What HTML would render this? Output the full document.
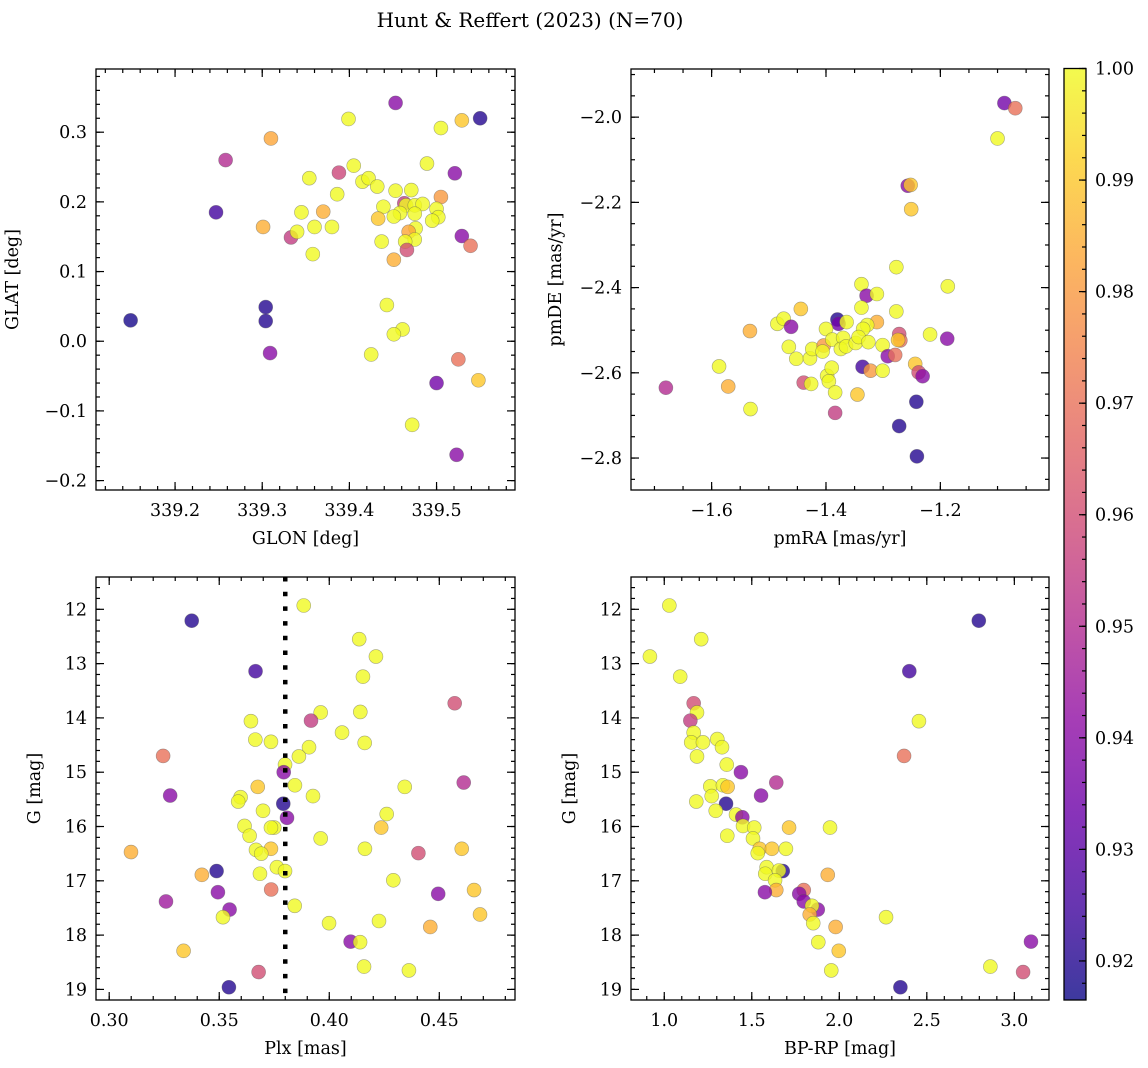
<!DOCTYPE html>
<html><head><meta charset="utf-8">
<style>
html,body{margin:0;padding:0;background:#fff;}
svg{display:block;font-family:"DejaVu Serif","Liberation Serif",serif;}
</style></head>
<body>
<svg id="fig" width="1148" height="1068" xmlns="http://www.w3.org/2000/svg">
<text x="530" y="27" font-size="20" text-anchor="middle">Hunt &amp; Reffert (2023) (N=70)</text>
</svg>
<script>
// ---- Panel 1: GLON vs GLAT ----
const glon = [339.453,339.399,339.505,339.529,339.550,339.310,339.258,339.405,339.489,339.521,339.354,339.388,339.415,339.422,339.432,339.453,339.471,339.505,339.386,339.439,339.463,339.465,339.475,339.484,339.500,339.502,339.495,339.458,339.475,339.451,339.433,339.476,339.468,339.475,339.464,339.466,339.437,339.451,339.529,339.539,339.247,339.301,339.345,339.370,339.360,339.380,339.333,339.340,339.358,339.149,339.304,339.304,339.309,339.443,339.461,339.451,339.425,339.525,339.548,339.500,339.472,339.523];
const glat = [0.342,0.319,0.306,0.317,0.320,0.291,0.260,0.252,0.255,0.241,0.234,0.242,0.229,0.234,0.222,0.216,0.217,0.207,0.211,0.193,0.198,0.195,0.195,0.197,0.190,0.178,0.173,0.184,0.183,0.179,0.176,0.162,0.157,0.146,0.143,0.131,0.143,0.117,0.151,0.137,0.185,0.164,0.185,0.186,0.164,0.164,0.149,0.157,0.125,0.030,0.049,0.029,-0.017,0.052,0.017,0.010,-0.019,-0.026,-0.056,-0.060,-0.120,-0.163];
const probA = [0.94,1,1,0.99,0.92,0.983,0.95,1,1,0.94,1,0.958,1,1,1,1,1,0.98,1,1,0.955,1,1,1,1,1,1,1,1,1,0.99,1,0.983,1,1,0.96,1,0.985,0.94,0.97,0.925,0.985,1,0.985,1,1,0.955,1,1,0.918,0.92,0.92,0.94,1,1,1,1,0.97,0.99,0.935,1,0.94];
// ---- Panel 2: pmRA vs pmDE ----
const pmra = [-1.088,-1.069,-1.100,-1.257,-1.252,-1.251,-1.277,-1.187,-1.338,-1.329,-1.311,-1.338,-1.277,-1.444,-1.485,-1.474,-1.461,-1.380,-1.378,-1.364,-1.311,-1.328,-1.335,-1.400,-1.533,-1.465,-1.452,-1.428,-1.424,-1.404,-1.406,-1.389,-1.370,-1.374,-1.365,-1.348,-1.343,-1.326,-1.301,-1.272,-1.270,-1.274,-1.218,-1.188,-1.292,-1.279,-1.244,-1.238,-1.231,-1.587,-1.571,-1.680,-1.532,-1.439,-1.426,-1.398,-1.390,-1.395,-1.384,-1.345,-1.336,-1.322,-1.301,-1.384,-1.242,-1.272,-1.241];
const pmde = [-1.967,-1.979,-2.050,-2.161,-2.159,-2.216,-2.352,-2.397,-2.392,-2.419,-2.415,-2.447,-2.456,-2.450,-2.485,-2.473,-2.492,-2.475,-2.485,-2.481,-2.481,-2.488,-2.497,-2.497,-2.502,-2.539,-2.567,-2.566,-2.544,-2.536,-2.550,-2.522,-2.518,-2.544,-2.538,-2.530,-2.516,-2.528,-2.535,-2.509,-2.524,-2.523,-2.510,-2.520,-2.561,-2.558,-2.579,-2.599,-2.608,-2.585,-2.632,-2.635,-2.685,-2.623,-2.626,-2.607,-2.588,-2.620,-2.646,-2.651,-2.586,-2.595,-2.595,-2.694,-2.668,-2.725,-2.796];
const probB = [0.935,0.97,1,0.94,0.99,0.99,1,1,1,0.94,1,1,1,0.99,1,1,0.94,0.92,0.935,1,0.985,1,1,1,0.985,1,1,1,1,0.98,1,1,1,1,1,1,1,1,1,0.96,0.97,0.99,1,0.94,0.94,0.97,0.99,0.96,0.94,1,0.985,0.95,1,0.96,1,1,1,1,1,0.99,0.925,0.98,1,0.955,0.92,0.92,0.92];
// ---- Panel 3: Plx vs G ----
const plx = [0.3884,0.3375,0.4136,0.4212,0.3665,0.4153,0.4570,0.4141,0.3961,0.3917,0.3644,0.4058,0.3664,0.3735,0.4161,0.3908,0.3862,0.3245,0.3799,0.3793,0.4611,0.4343,0.3675,0.3844,0.3277,0.3926,0.3597,0.3586,0.3791,0.3699,0.4261,0.3808,0.3615,0.3750,0.3735,0.4236,0.3638,0.3961,0.4162,0.4602,0.3667,0.3735,0.3691,0.3099,0.4405,0.3762,0.3799,0.3488,0.3421,0.3685,0.4291,0.3736,0.4658,0.3494,0.4495,0.3258,0.3843,0.3547,0.4685,0.3517,0.3999,0.4226,0.4459,0.4097,0.4140,0.3338,0.4158,0.4362,0.3679,0.3544];
const gmagC = [11.93,12.21,12.55,12.87,13.14,13.24,13.73,13.89,13.90,14.05,14.06,14.27,14.40,14.44,14.46,14.54,14.71,14.70,14.86,15.00,15.19,15.27,15.27,15.24,15.43,15.44,15.46,15.54,15.58,15.71,15.77,15.84,15.99,16.02,16.02,16.02,16.17,16.22,16.41,16.41,16.43,16.41,16.50,16.47,16.49,16.75,16.82,16.82,16.89,16.87,16.99,17.16,17.17,17.21,17.24,17.38,17.46,17.53,17.62,17.67,17.78,17.74,17.85,18.12,18.13,18.29,18.58,18.65,18.68,18.96];
const probC = [1,0.92,1,1,0.925,1,0.96,1,1,0.955,1,1,1,1,1,1,1,0.97,1,0.94,0.95,1,0.99,1,0.94,1,1,1,0.92,1,1,0.94,1,1,1,0.99,1,1,1,0.99,1,0.99,1,0.985,0.96,1,1,0.92,0.985,1,1,0.97,0.99,0.94,0.94,0.945,1,0.94,0.99,1,1,1,0.985,0.94,1,0.99,1,1,0.96,0.92];
const plxCut = 0.38;
// ---- Panel 4: BP-RP vs G ----
const bprp = [1.029,1.211,0.918,2.797,2.400,1.091,1.168,1.187,1.149,2.455,1.168,1.154,1.221,1.303,1.330,1.187,2.370,1.357,1.438,1.640,1.263,1.335,1.362,1.553,1.271,1.183,1.353,1.294,1.410,1.446,1.450,1.514,1.713,1.947,1.360,1.507,1.545,1.615,1.695,1.534,1.585,1.677,1.655,1.577,1.934,1.633,1.640,1.575,1.797,1.771,1.797,1.877,1.844,1.831,2.267,1.851,1.979,3.095,1.880,1.997,2.863,1.954,3.050,2.349];
const gmagD = [11.93,12.55,12.87,12.21,13.14,13.24,13.73,13.90,14.05,14.06,14.27,14.45,14.45,14.39,14.54,14.71,14.70,14.86,15.00,15.19,15.26,15.24,15.27,15.43,15.44,15.54,15.58,15.71,15.78,15.83,15.99,16.02,16.02,16.02,16.17,16.22,16.41,16.41,16.41,16.49,16.75,16.82,16.81,16.87,16.89,16.99,17.17,17.21,17.17,17.24,17.38,17.53,17.46,17.62,17.67,17.78,17.85,18.12,18.13,18.29,18.58,18.65,18.68,18.96];
const probD = [1,1,1,0.92,0.925,1,0.96,1,0.955,1,1,1,1,1,1,1,0.97,1,0.94,0.95,1,1,0.99,0.94,1,1,0.92,1,1,0.94,1,1,0.99,1,1,1,0.99,0.99,1,1,1,0.92,1,1,0.985,1,0.985,0.94,0.97,0.94,0.94,0.94,1,0.985,1,1,0.985,0.94,1,0.99,1,1,0.96,0.92];
// colorbar ticks
const cbTicks = [0.92,0.93,0.94,0.95,0.96,0.97,0.98,0.99,1.00];
const cbMin = 0.9165, cbMax = 1.0;

const NS = "http://www.w3.org/2000/svg";
const svg = document.getElementById('fig');
function mk(tag, attrs, parent){ const e=document.createElementNS(NS,tag); for(const k in attrs) e.setAttribute(k,attrs[k]); (parent||svg).appendChild(e); return e; }

const plasma = [[13,8,135],[65,4,157],[106,0,168],[143,13,164],[177,42,144],[204,71,120],[225,100,98],[242,132,75],[252,166,54],[252,206,37],[240,249,33]];
function cmap(t){ t=Math.max(0,Math.min(1,t)); const f=t*10; const i=Math.min(9,Math.floor(f)); const u=f-i; const a=plasma[i], b=plasma[i+1]; return 'rgb('+a.map((v,k)=>Math.round(v+(b[k]-v)*u)).join(',')+')'; }
function pcol(p){ return cmap((p-cbMin)/(cbMax-cbMin)); }

const FS = 17.5;
function panel(o){
  const g = mk('g',{});
  
  
  const sx = v => o.x0 + (v - o.xmin)/(o.xmax-o.xmin)*(o.x1-o.x0);
  const sy = o.yrev ? (v => o.y0 + (v - o.ymin)/(o.ymax-o.ymin)*(o.y1-o.y0))
                    : (v => o.y1 - (v - o.ymin)/(o.ymax-o.ymin)*(o.y1-o.y0));
  const tg = mk('g',{stroke:'#000','stroke-width':1.2},g);
  const eps=1e-9;
  function ticksX(step, len){ const s=Math.ceil(o.xmin/step-eps); for(let k=s; k*step<=o.xmax+eps; k++){ const X=sx(k*step); mk('line',{x1:X,x2:X,y1:o.y1,y2:o.y1-len},tg); mk('line',{x1:X,x2:X,y1:o.y0,y2:o.y0+len},tg);} }
  function ticksY(step, len){ const s=Math.ceil(o.ymin/step-eps); for(let k=s; k*step<=o.ymax+eps; k++){ const Y=sy(k*step); mk('line',{x1:o.x0,x2:o.x0+len,y1:Y,y2:Y},tg); mk('line',{x1:o.x1,x2:o.x1-len,y1:Y,y2:Y},tg);} }
  ticksX(o.xminor,4); ticksX(o.xmajor,8); ticksY(o.yminor,4); ticksY(o.ymajor,8);
  const xl = mk('g',{'font-size':FS,'text-anchor':'middle'},g);
  
  
  o.xlabels.forEach(v=>{ const t=mk('text',{x:sx(v),y:o.y1+26},xl); t.textContent=v.toFixed(o.xdec).replace('-','\u2212'); });
  const yl = mk('g',{'font-size':FS,'text-anchor':'end'},g);
  
  
  o.ylabels.forEach(v=>{ const t=mk('text',{x:o.x0-9,y:sy(v)+6},yl); t.textContent=v.toFixed(o.ydec).replace('-','\u2212'); });
  const xt = mk('text',{x:(o.x0+o.x1)/2,y:o.y1+54,'font-size':FS,'text-anchor':'middle'},g);
  
  
  xt.textContent=o.xtitle;
  const ytx=o.x0-o.ytoff, yty=(o.y0+o.y1)/2;
  const yt = mk('text',{x:ytx,y:yty,'font-size':FS,'text-anchor':'middle',transform:'rotate(-90 '+ytx+' '+yty+')'},g);
  
  
  yt.textContent=o.ytitle;
  const pg = mk('g',{},g);
  
  
  o.xs.forEach((v,i)=>{
    const c = mk('circle',{cx:sx(v),cy:sy(o.ys[i]),r:7,fill:pcol(o.ps[i]),'fill-opacity':0.8,stroke:'#555','stroke-opacity':0.5,'stroke-width':0.6},pg);
    
    
  });
  if(o.extra) o.extra(g,sx,sy);
  mk('rect',{x:o.x0,y:o.y0,width:o.x1-o.x0,height:o.y1-o.y0,fill:'none',stroke:'#000','stroke-width':1.3},g);
}

panel({name:'glon-glat-panel',x0:96,x1:515,y0:69,y1:490,xmin:339.1093,xmax:339.590,ymin:-0.2135,ymax:0.3907,
  xmajor:0.1,xminor:0.02,ymajor:0.1,yminor:0.02,xlabels:[339.2,339.3,339.4,339.5],xdec:1,ylabels:[-0.2,-0.1,0,0.1,0.2,0.3],ydec:1,
  xtitle:'GLON [deg]',ytitle:'GLAT [deg]',ytoff:78,xs:glon,ys:glat,ps:probA});
panel({name:'pm-panel',x0:631,x1:1049,y0:69,y1:490,xmin:-1.741,xmax:-1.010,ymin:-2.875,ymax:-1.887,
  xmajor:0.2,xminor:0.05,ymajor:0.2,yminor:0.05,xlabels:[-1.6,-1.4,-1.2],xdec:1,ylabels:[-2.8,-2.6,-2.4,-2.2,-2.0],ydec:1,
  xtitle:'pmRA [mas/yr]',ytitle:'pmDE [mas/yr]',ytoff:70,xs:pmra,ys:pmde,ps:probB});
panel({name:'plx-g-panel',x0:96,x1:515,y0:577,y1:1000,xmin:0.294,xmax:0.4844,ymin:11.405,ymax:19.195,yrev:true,
  xmajor:0.05,xminor:0.01,ymajor:1,yminor:0.2,xlabels:[0.30,0.35,0.40,0.45],xdec:2,ylabels:[12,13,14,15,16,17,18,19],ydec:0,
  xtitle:'Plx [mas]',ytitle:'G [mag]',ytoff:56,xs:plx,ys:gmagC,ps:probC,
  extra:(g,sx,sy)=>{ const l=mk('line',{x1:sx(plxCut),x2:sx(plxCut),y1:577,y2:1000,stroke:'#000','stroke-width':4.5,'stroke-dasharray':'4.5 10.2'},g);
    
     }});
panel({name:'cmd-panel',x0:631,x1:1049,y0:577,y1:1000,xmin:0.810,xmax:3.198,ymin:11.405,ymax:19.195,yrev:true,
  xmajor:0.5,xminor:0.1,ymajor:1,yminor:0.2,xlabels:[1.0,1.5,2.0,2.5,3.0],xdec:1,ylabels:[12,13,14,15,16,17,18,19],ydec:0,
  xtitle:'BP-RP [mag]',ytitle:'G [mag]',ytoff:56,xs:bprp,ys:gmagD,ps:probD});

(function(){
  const x0=1064,x1=1086,y0=68.5,y1=1000;
  const g=mk('g',{});
  
  
  const defs=mk('defs',{},g);
  const lg=mk('linearGradient',{id:'cbg',x1:0,y1:1,x2:0,y2:0},defs);
  for(let i=0;i<=20;i++){ mk('stop',{offset:(i/20),'stop-color':cmap(i/20),'stop-opacity':0.8},lg); }
  mk('rect',{x:x0,y:y0,width:x1-x0,height:y1-y0,fill:'url(#cbg)'},g);
  const sy=v=> y1-(v-cbMin)/(cbMax-cbMin)*(y1-y0);
  const tg=mk('g',{stroke:'#000','stroke-width':1.2},g);
  for(let k=Math.ceil(cbMin/0.002);k*0.002<=cbMax+1e-9;k++){ const Y=sy(k*0.002); mk('line',{x1:x1,x2:x1-4,y1:Y,y2:Y},tg); }
  const lg2=mk('g',{'font-size':FS},g);
  cbTicks.forEach(v=>{ const Y=sy(v); mk('line',{x1:x1,x2:x1-7,y1:Y,y2:Y},tg); const t=mk('text',{x:x1+9,y:Y+6},lg2); t.textContent=v.toFixed(2); });
  mk('rect',{x:x0,y:y0,width:x1-x0,height:y1-y0,fill:'none',stroke:'#000','stroke-width':1.3},g);
})();
</script>
</body></html>
